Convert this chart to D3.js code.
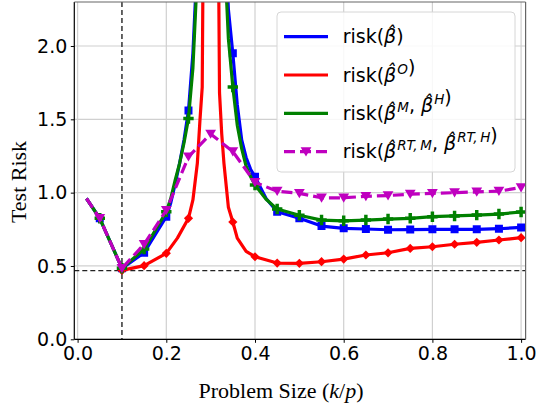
<!DOCTYPE html>
<html lang="en">
<head>
<meta charset="UTF-8">
<title>Test Risk</title>
<script src="https://cdn.jsdelivr.net/npm/d3@7"></script>
<style>
  body { margin: 0; background: #fff; }
</style>
</head>
<body>
<svg width="538" height="413"></svg>
<script>
// problem size grids (k/p) and risks
var gridBG = [0.02, 0.05, 0.1, 0.15, 0.2, 0.21, 0.22, 0.23, 0.24, 0.25, 0.26, 0.27, 0.3, 0.33, 0.34, 0.35, 0.36, 0.37, 0.38, 0.39, 0.4, 0.425, 0.45, 0.5, 0.55, 0.6, 0.65, 0.7, 0.75, 0.8, 0.85, 0.9, 0.95, 1.0]
var riskBeta = [0.96, 0.825, 0.484, 0.59, 0.836, 0.93, 1.06, 1.2, 1.36, 1.56, 1.95, 2.6, 30, 2.9, 2.25, 1.95, 1.6, 1.36, 1.24, 1.16, 1.108, 0.96, 0.87, 0.825, 0.772, 0.757, 0.752, 0.747, 0.748, 0.75, 0.75, 0.75, 0.754, 0.763]
var riskMH = [0.96, 0.825, 0.484, 0.615, 0.87, 0.96, 1.085, 1.2, 1.34, 1.506, 1.85, 2.5, 30, 2.7, 2.05, 1.72, 1.46, 1.3, 1.18, 1.11, 1.052, 0.955, 0.888, 0.846, 0.813, 0.808, 0.813, 0.82, 0.825, 0.836, 0.841, 0.847, 0.854, 0.868]

var gridO = [0.1, 0.15, 0.2, 0.225, 0.25, 0.26, 0.27, 0.276, 0.281, 0.283, 0.3, 0.318, 0.32, 0.325, 0.33, 0.34, 0.35, 0.36, 0.38, 0.4, 0.45, 0.5, 0.55, 0.6, 0.65, 0.7, 0.75, 0.8, 0.85, 0.9, 0.95, 1.0]
var riskO = [0.47, 0.502, 0.586, 0.69, 0.825, 0.95, 1.2, 1.5, 1.72, 2.6, 30, 2.5, 1.68, 1.4, 1.2, 0.9, 0.8, 0.69, 0.6, 0.563, 0.52, 0.518, 0.529, 0.547, 0.575, 0.59, 0.62, 0.631, 0.648, 0.661, 0.677, 0.693]

var gridRT = [0.02, 0.05, 0.1, 0.15, 0.2, 0.25, 0.3, 0.35, 0.4, 0.45, 0.5, 0.55, 0.6, 0.65, 0.7, 0.75, 0.8, 0.85, 0.9, 0.95, 1.0]
var riskRT = [0.96, 0.825, 0.484, 0.648, 0.88, 1.245, 1.4, 1.28, 1.07, 1.01, 0.995, 0.965, 0.965, 0.975, 0.98, 0.99, 0.995, 1.0, 1.005, 1.01, 1.035]

var xTicks = [0, 0.2, 0.4, 0.6, 0.8, 1.0]
var yTicks = [0, 0.5, 1.0, 1.5, 2.0]
var optK = 0.1, optRisk = 0.468

var svg = d3.select('svg')
var L = 74.3, R = 525.6, T = 2, B = 339.3
var x = d3.scaleLinear().domain([0, 1]).range([77.6, 521.1])
var y = d3.scaleLinear().domain([0, 2.3]).range([B, T])

svg.append('defs').append('clipPath').attr('id', 'clip')
  .append('rect').attr('x', L).attr('y', T).attr('width', R - L).attr('height', B - T)

// grid
var grid = svg.append('g')
grid.selectAll('.gx').data(xTicks).enter().append('line')
  .attr('x1', d => x(d)).attr('x2', d => x(d)).attr('y1', T).attr('y2', B)
  .attr('stroke', '#d0d0d0').attr('stroke-width', 1.2)
grid.selectAll('.gy').data(yTicks).enter().append('line')
  .attr('y1', d => y(d)).attr('y2', d => y(d)).attr('x1', L).attr('x2', R)
  .attr('stroke', '#d0d0d0').attr('stroke-width', 1.2)

var plot = svg.append('g').attr('clip-path', 'url(#clip)')

// reference lines
plot.append('line').attr('x1', L).attr('x2', R).attr('y1', y(optRisk)).attr('y2', y(optRisk))
  .attr('stroke', '#222').attr('stroke-width', 1.4).attr('stroke-dasharray', '5,3')
plot.append('line').attr('x1', x(optK)).attr('x2', x(optK)).attr('y1', T).attr('y2', B)
  .attr('stroke', '#222').attr('stroke-width', 1.4).attr('stroke-dasharray', '5,3')

// marker shapes
function square(s) { return 'M' + (-s) + ',' + (-s) + 'H' + s + 'V' + s + 'H' + (-s) + 'Z' }
function diamond(s) { return 'M0,' + (-s) + 'L' + s + ',0L0,' + s + 'L' + (-s) + ',0Z' }
function plusP(s) {
  var a = s / 3
  return 'M' + (-a) + ',' + (-s) + 'H' + a + 'V' + (-a) + 'H' + s + 'V' + a + 'H' + a + 'V' + s +
    'H' + (-a) + 'V' + a + 'H' + (-s) + 'V' + (-a) + 'H' + (-a) + 'Z'
}
function triDown(s) { return 'M' + (-s) + ',' + (-s * 0.8) + 'L' + s + ',' + (-s * 0.8) + 'L0,' + (s * 0.9) + 'Z' }

var series = [
  { xs: gridBG, ys: riskBeta, color: '#0000ff', marker: square(4), dash: null },
  { xs: gridO, ys: riskO, color: '#ff0000', marker: diamond(4.6), dash: null },
  { xs: gridBG, ys: riskMH, color: '#008000', marker: plusP(5.2), dash: null },
  { xs: gridRT, ys: riskRT, color: '#bf00bf', marker: triDown(5.4), dash: '11,5' }
]

var line = d3.line().x(d => x(d[0])).y(d => y(d[1]))

series.forEach(function (s) {
  var pts = s.xs.map((k, i) => [k, s.ys[i]])
  plot.append('path').datum(pts).attr('d', line)
    .attr('fill', 'none').attr('stroke', s.color).attr('stroke-width', 3.2)
    .attr('stroke-linejoin', 'round')
    .attr('stroke-dasharray', s.dash)
  // markers every 0.05
  var mk = pts.filter(p => Math.abs(p[0] * 20 - Math.round(p[0] * 20)) < 1e-6 && p[0] >= 0.05)
  plot.selectAll(null).data(mk).enter().append('path')
    .attr('transform', p => 'translate(' + x(p[0]) + ',' + y(p[1]) + ')')
    .attr('d', s.marker).attr('fill', s.color)
})

// axes
var font = 'DejaVu Sans, sans-serif'
var ax = svg.append('g').attr('transform', 'translate(0,' + B + ')')
  .call(d3.axisBottom(x).tickValues(xTicks).tickFormat(d3.format('.1f')).tickSize(3.5).tickPadding(3.5))
var ay = svg.append('g').attr('transform', 'translate(' + L + ',0)')
  .call(d3.axisLeft(y).tickValues(yTicks).tickFormat(d3.format('.1f')).tickSize(3.5).tickPadding(3.5))
;[ax, ay].forEach(function (a) {
  a.select('.domain').remove()
  a.selectAll('text').attr('font-family', font).attr('font-size', 19).attr('fill', '#000')
  a.selectAll('line').attr('stroke', '#000').attr('stroke-width', 1)
})

// spines
svg.append('line').attr('x1', L).attr('x2', L).attr('y1', T).attr('y2', B).attr('stroke', '#000').attr('stroke-width', 1.2)
svg.append('line').attr('x1', L).attr('x2', R).attr('y1', B).attr('y2', B).attr('stroke', '#000').attr('stroke-width', 1.2)
svg.append('line').attr('x1', L).attr('x2', R).attr('y1', T).attr('y2', T).attr('stroke', '#666').attr('stroke-width', 1.2)
svg.append('line').attr('x1', R).attr('x2', R).attr('y1', T).attr('y2', B).attr('stroke', '#666').attr('stroke-width', 1.2)

// axis labels
svg.append('text').attr('transform', 'translate(26,182) rotate(-90)')
  .attr('text-anchor', 'middle').attr('font-family', 'Liberation Serif, serif').attr('font-size', 22)
  .text('Test Risk')
var xl = svg.append('text').attr('x', 281).attr('y', 398).attr('text-anchor', 'middle')
  .attr('font-family', 'Liberation Serif, serif').attr('font-size', 22)
xl.append('tspan').text('Problem Size (')
xl.append('tspan').attr('font-style', 'italic').text('k')
xl.append('tspan').text('/')
xl.append('tspan').attr('font-style', 'italic').text('p')
xl.append('tspan').text(')')

// legend
var lg = svg.append('g')
lg.append('rect').attr('x', 277).attr('y', 12).attr('width', 238).attr('height', 160).attr('rx', 4)
  .attr('fill', 'rgba(255,255,255,0.85)').attr('stroke', '#d6d6d6')
var sups = [[], ['O'], ['M', 'H'], ['RT,\u2009M', 'RT,\u2009H']]
series.forEach(function (s, i) {
  var cy = 36.7 + i * 38.3
  lg.append('line').attr('x1', 284).attr('x2', 328).attr('y1', cy).attr('y2', cy)
    .attr('stroke', s.color).attr('stroke-width', 3.2).attr('stroke-dasharray', s.dash)
  if (s.dash) lg.append('path').attr('transform', 'translate(306,' + cy + ')').attr('d', s.marker).attr('fill', s.color)
  var t = lg.append('text').attr('x', 342.7).attr('y', cy + 6.7).attr('font-family', font).attr('font-size', 19)
  t.append('tspan').text('risk(')
  var sp = sups[i]
  var n = Math.max(sp.length, 1)
  for (var j = 0; j < n; j++) {
    if (j > 0) t.append('tspan').text(', ')
    t.append('tspan').attr('font-style', 'italic').text('\u03b2\u0302')
    if (sp.length) {
      t.append('tspan').attr('font-style', 'italic').attr('font-size', 13.5).attr('dx', 1).attr('dy', -8).text(sp[j])
      t.append('tspan').attr('font-size', 19).attr('dy', 8).text('')
    }
  }
  t.append('tspan').text(')')
})
</script>
</body>
</html>
